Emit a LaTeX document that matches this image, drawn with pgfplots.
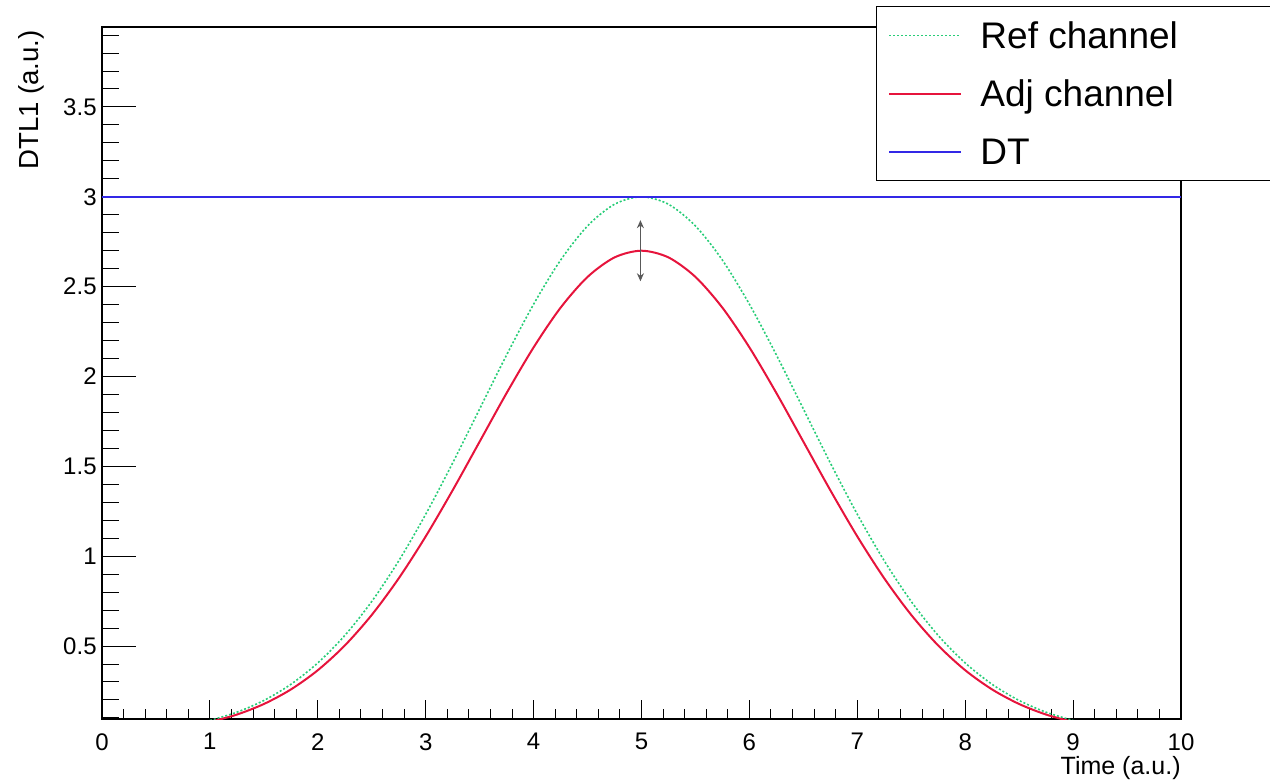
\documentclass[border=0pt]{standalone}
\usepackage{pgfplots}
\pgfplotsset{compat=1.18}
\usepackage{fontspec}
\setmainfont{Liberation Sans}
\usetikzlibrary{arrows.meta}

\definecolor{refgreen}{RGB}{40,205,120}
\definecolor{adjred}{RGB}{230,20,60}
\definecolor{dtblue}{RGB}{50,40,230}

\pgfplotsset{
    rootframe/.style={
        scale only axis,
        width=539.5pt, height=346pt,
        xmin=0, xmax=10,
        ymin=0.094, ymax=3.945,
        tick pos=left,
        tick align=inside,
        every tick/.append style={black, line width=0.5pt},
        axis line style={line width=0.6pt},
        /pgf/number format/assume math mode=true,
        ticklabel style={font=\fontsize{12}{14}\selectfont},
    },
}

\begin{document}
\begin{tikzpicture}
% x ticks (shorter than the y ticks)
\begin{axis}[
    rootframe,
    ytick=\empty,
    xtick={0,1,...,10},
    minor xtick={0.2,0.4,0.6,0.8,1.2,1.4,1.6,1.8,2.2,2.4,2.6,2.8,3.2,3.4,3.6,3.8,4.2,4.4,4.6,4.8,5.2,5.4,5.6,5.8,6.2,6.4,6.6,6.8,7.2,7.4,7.6,7.8,8.2,8.4,8.6,8.8,9.2,9.4,9.6,9.8},
    major tick length=9.5pt,
    minor tick length=5pt,
    xticklabel style={inner ysep=0pt, yshift=-7pt},
    xlabel={Time (a.u.)},
    xlabel style={font=\fontsize{12.5}{14}\selectfont, inner sep=0pt,
        at={(axis description cs:1,-0.0809)}, anchor=base east},
]
\addplot[draw=none] coordinates {(0,1) (10,1)};
\end{axis}
% data, y ticks and legend
\begin{axis}[
    rootframe,
    xtick=\empty,
    ytick={0.5,1,1.5,2,2.5,3,3.5},
    minor ytick={0.1,0.2,0.3,0.4,0.6,0.7,0.8,0.9,1.1,1.2,1.3,1.4,1.6,1.7,1.8,1.9,2.1,2.2,2.3,2.4,2.6,2.7,2.8,2.9,3.1,3.2,3.3,3.4,3.6,3.7,3.8,3.9},
    major tick length=17pt,
    minor tick length=8.5pt,
    yticklabel style={inner xsep=0pt, xshift=-2.5pt},
    ylabel={DTL1 (a.u.)},
    ylabel style={font=\fontsize{13.8}{16}\selectfont, inner sep=0pt,
        at={(axis description cs:-0.0593,0.996)}, anchor=base east},
    legend cell align=left,
    legend image code/.code={\draw[#1] (0pt,0pt) -- (36pt,0pt);},
    legend style={
        at={(rel axis cs:0.7173,1.0303)}, anchor=north west,
        draw=black, line width=0.5pt, fill=white,
        inner xsep=6pt, inner ysep=0pt, row sep=0pt, column sep=9pt,
        font=\fontsize{18.5}{20}\selectfont,
        nodes={inner sep=0pt, text height=21pt, text depth=8pt},
    },
]
\addplot[refgreen, line width=0.8pt, dash pattern=on 1pt off 1pt, smooth] coordinates {
    (1.00,0.0857) (1.25,0.1318) (1.50,0.1971) (1.75,0.2869) (2.00,0.4060)
    (2.25,0.5587) (2.50,0.7480) (2.75,0.9740) (3.00,1.2333) (3.25,1.5190)
    (3.50,1.8196) (3.75,2.1200) (4.00,2.4022) (4.25,2.6475) (4.50,2.8379)
    (4.75,2.9586) (5.00,3.0000) (5.25,2.9586) (5.50,2.8379) (5.75,2.6475)
    (6.00,2.4022) (6.25,2.1200) (6.50,1.8196) (6.75,1.5190) (7.00,1.2333)
    (7.25,0.9740) (7.50,0.7480) (7.75,0.5587) (8.00,0.4060) (8.25,0.2869)
    (8.50,0.1971) (8.75,0.1318) (9.00,0.0857)
};
\addlegendentry{\makebox[140pt][l]{Ref channel}}
\addplot[adjred, line width=1pt, smooth] coordinates {
    (1.00,0.0771) (1.25,0.1186) (1.50,0.1774) (1.75,0.2582) (2.00,0.3654)
    (2.25,0.5028) (2.50,0.6732) (2.75,0.8766) (3.00,1.1100) (3.25,1.3671)
    (3.50,1.6376) (3.75,1.9080) (4.00,2.1620) (4.25,2.3828) (4.50,2.5541)
    (4.75,2.6627) (5.00,2.7000) (5.25,2.6627) (5.50,2.5541) (5.75,2.3828)
    (6.00,2.1620) (6.25,1.9080) (6.50,1.6376) (6.75,1.3671) (7.00,1.1100)
    (7.25,0.8766) (7.50,0.6732) (7.75,0.5028) (8.00,0.3654) (8.25,0.2582)
    (8.50,0.1774) (8.75,0.1186) (9.00,0.0771)
};
\addlegendentry{\makebox[140pt][l]{Adj channel}}
\addplot[dtblue, line width=1pt] coordinates {(0,3) (10,3)};
\addlegendentry{\makebox[140pt][l]{DT}}
\draw[{Stealth[length=4pt,width=3.5pt]}-{Stealth[length=4pt,width=3.5pt]}, black!65, line width=0.8pt]
    (axis cs:4.99,2.53) -- (axis cs:4.99,2.87);
\end{axis}
\pgfresetboundingbox
\path[use as bounding box] (-51pt,-31.5pt) rectangle (584pt,359.5pt);
\end{tikzpicture}
\end{document}
